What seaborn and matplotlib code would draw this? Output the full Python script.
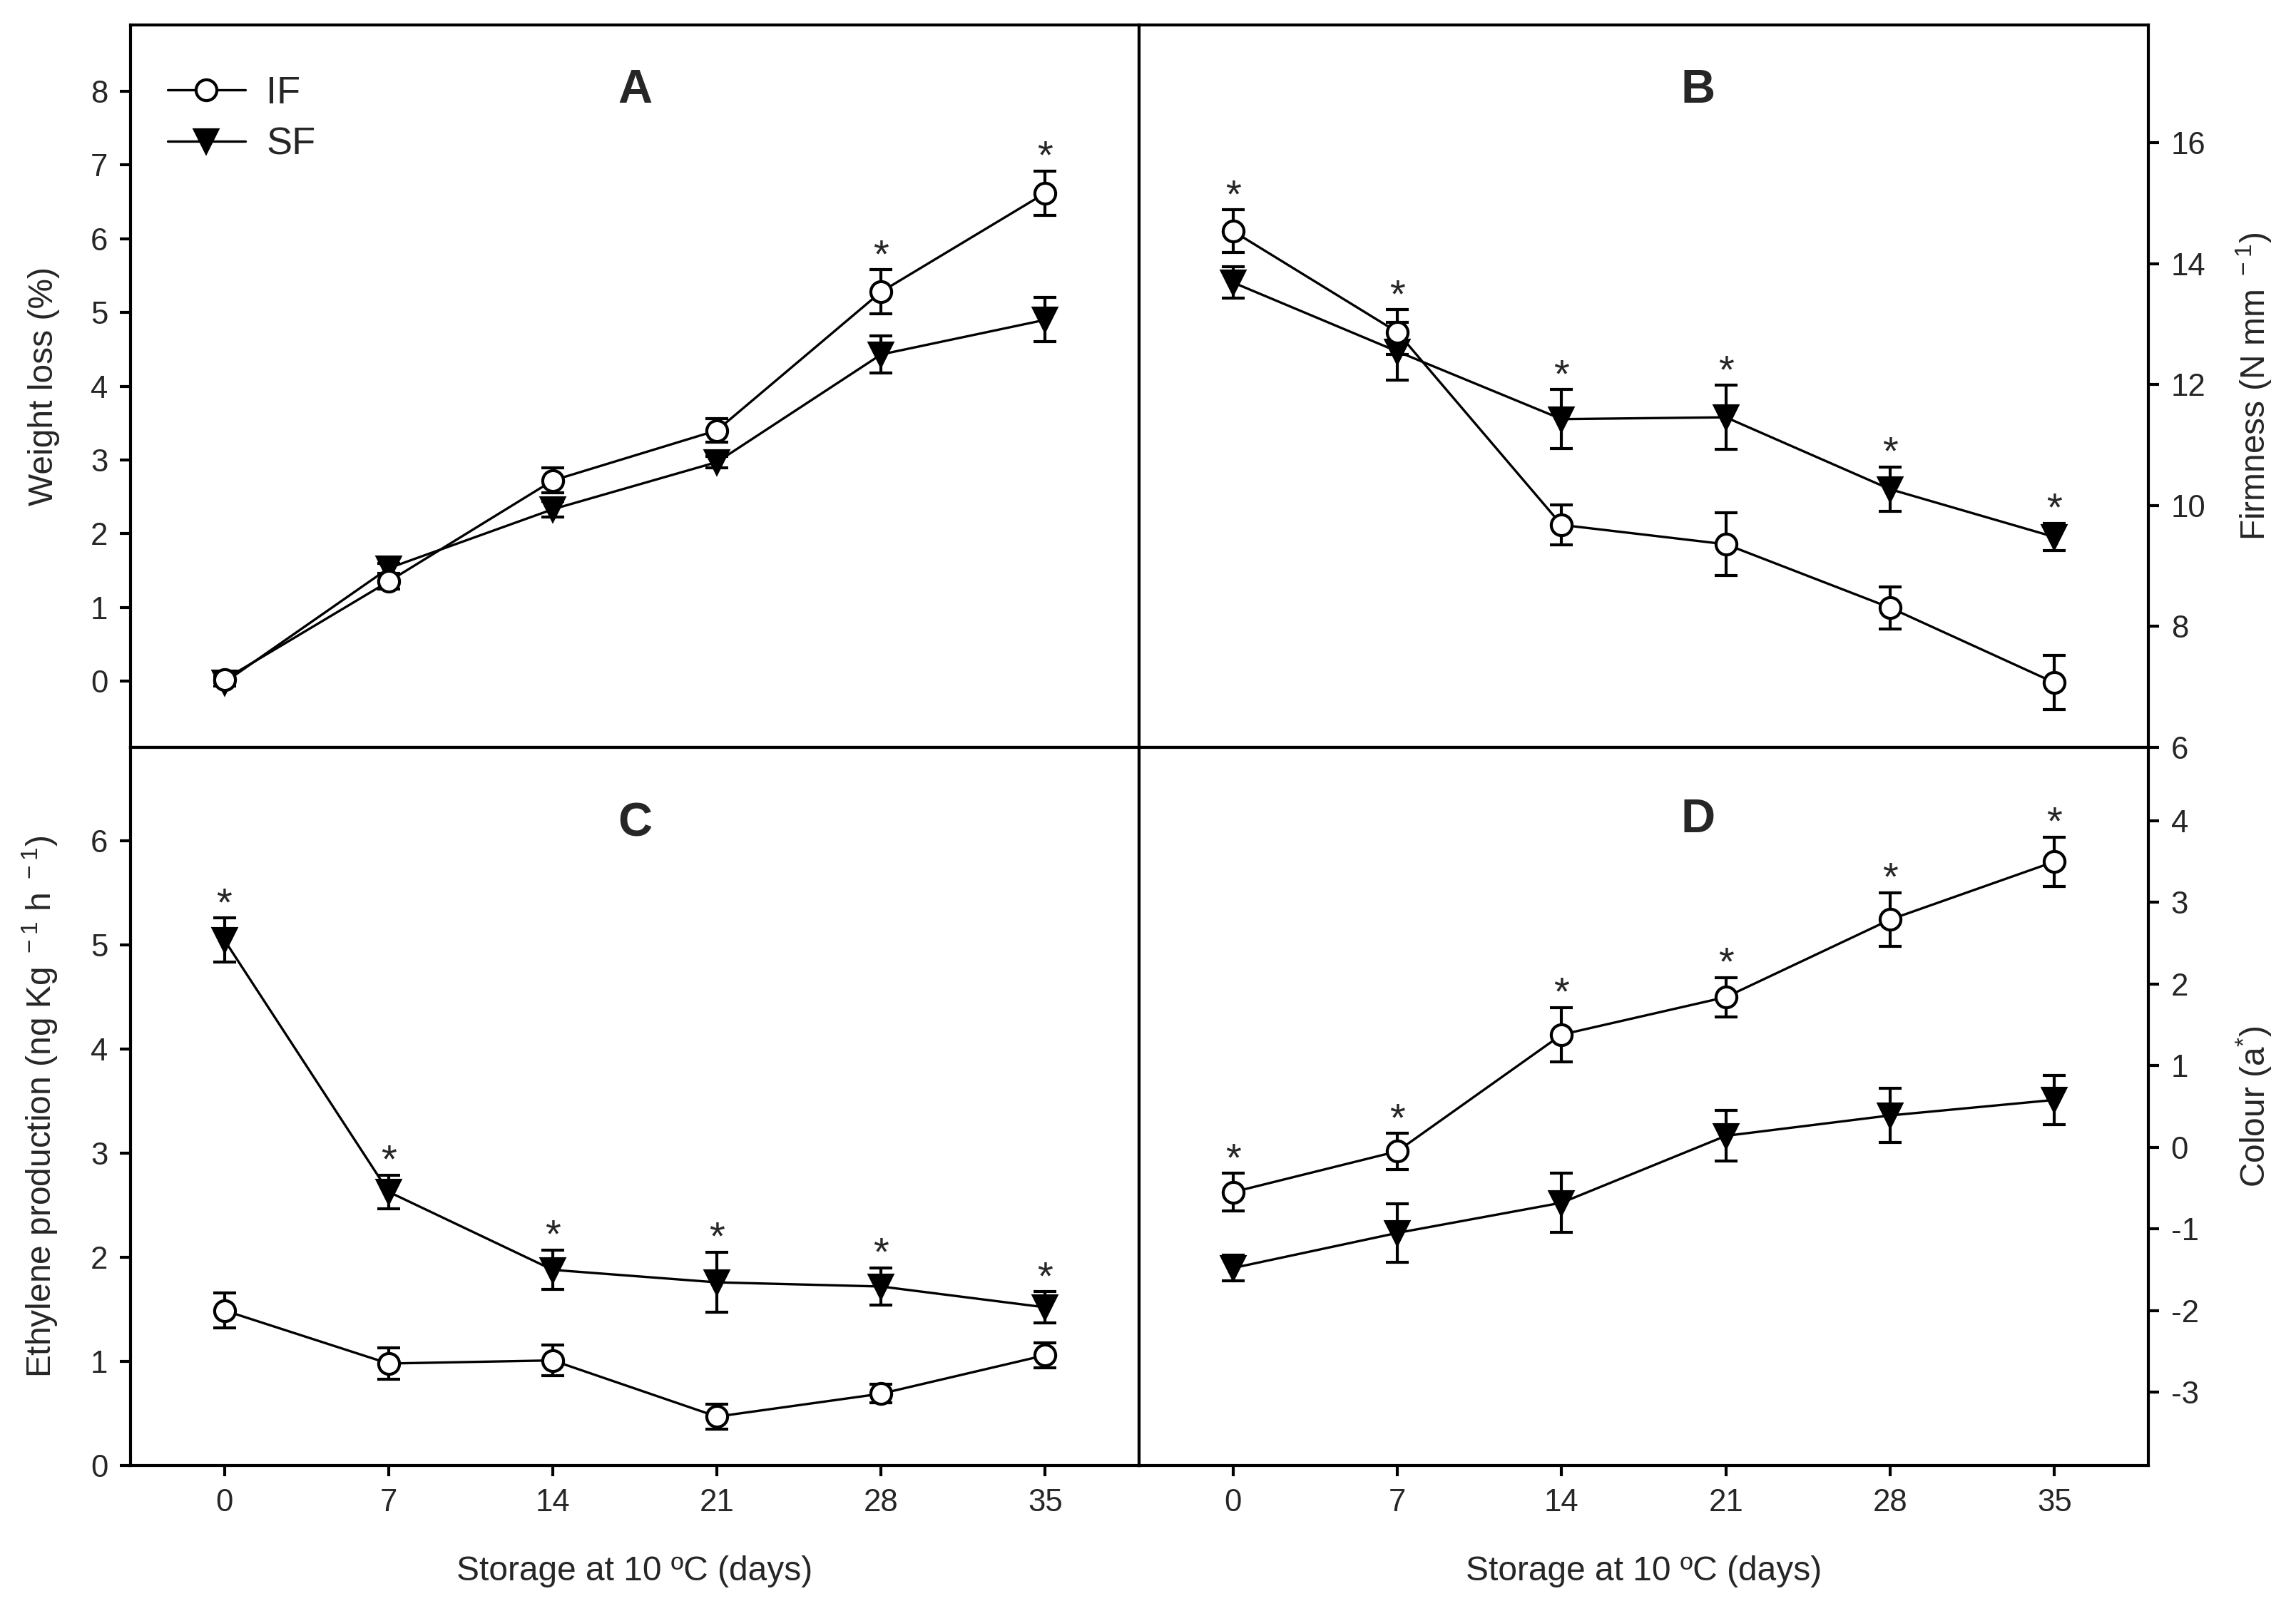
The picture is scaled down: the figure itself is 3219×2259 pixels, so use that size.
import matplotlib
matplotlib.use('Agg')
import matplotlib.pyplot as plt
import seaborn as sns

sns.set_style('ticks')
plt.rcParams['font.family'] = ['Liberation Sans', 'DejaVu Sans']
plt.rcParams['mathtext.default'] = 'regular'
plt.rcParams['axes.unicode_minus'] = False

days = [0, 7, 14, 21, 28, 35]

# A - weight loss (%)
weight_if = [0.02, 1.35, 2.72, 3.40, 5.28, 6.62]
weight_if_se = [0.04, 0.10, 0.17, 0.16, 0.30, 0.30]
weight_sf = [-0.02, 1.53, 2.33, 2.97, 4.43, 4.90]
weight_sf_se = [0.05, 0.07, 0.11, 0.08, 0.25, 0.30]
weight_stars = [0, 0, 0, 0, 1, 1]

# B - firmness (N mm-1)
firm_if = [14.54, 12.87, 9.68, 9.36, 8.31, 7.07]
firm_if_se = [0.35, 0.37, 0.33, 0.52, 0.35, 0.45]
firm_sf = [13.69, 12.55, 11.43, 11.46, 10.27, 9.48]
firm_sf_se = [0.26, 0.48, 0.49, 0.53, 0.37, 0.23]
firm_stars = [1, 1, 1, 1, 1, 1]

# C - ethylene production
eth_if = [1.49, 0.98, 1.01, 0.47, 0.69, 1.06]
eth_if_se = [0.17, 0.15, 0.15, 0.12, 0.09, 0.12]
eth_sf = [5.05, 2.63, 1.88, 1.76, 1.72, 1.52]
eth_sf_se = [0.21, 0.16, 0.19, 0.29, 0.18, 0.15]
eth_stars = [1, 1, 1, 1, 1, 1]

# D - colour a*
col_if = [-0.55, -0.05, 1.38, 1.84, 2.79, 3.50]
col_if_se = [0.23, 0.22, 0.33, 0.24, 0.33, 0.30]
col_sf = [-1.48, -1.05, -0.68, 0.14, 0.39, 0.58]
col_sf_se = [0.16, 0.36, 0.36, 0.31, 0.33, 0.30]
col_stars = [1, 1, 1, 1, 1, 1]

xticks = [0, 7, 14, 21, 28, 35]
xlabel = 'Storage at 10 ºC (days)'
narrow = ['Liberation Sans Narrow', 'Liberation Sans', 'DejaVu Sans']

fig = plt.figure(figsize=(3219 / 300, 2259 / 300), dpi=300)
L, M, R = 183 / 3219, 1597 / 3219, 3012 / 3219
T, Mid, B = 1 - 35 / 2259, 1 - 1048 / 2259, 1 - 2055 / 2259
axA = fig.add_axes([L, Mid, M - L, T - Mid])
axB = fig.add_axes([M, Mid, R - M, T - Mid])
axC = fig.add_axes([L, B, M - L, Mid - B])
axD = fig.add_axes([M, B, R - M, Mid - B])


def panel(ax, y_if, e_if, y_sf, e_sf, stars, ylim, yticks, letter, ly):
    for y, e in [(y_sf, e_sf), (y_if, e_if)]:
        ax.errorbar(days, y, yerr=e, fmt='none', ecolor='black',
                    elinewidth=1.0, capsize=3.8, capthick=1.0, zorder=2)
    sns.lineplot(x=days, y=y_sf, ax=ax, color='black', lw=0.8, marker='v',
                 markersize=7.5, markerfacecolor='black', markeredgecolor='black',
                 markeredgewidth=1.0, label='SF', zorder=3, legend=False)
    sns.lineplot(x=days, y=y_if, ax=ax, color='black', lw=0.8, marker='o',
                 markersize=7, markerfacecolor='white', markeredgecolor='black',
                 markeredgewidth=1.0, label='IF', zorder=4, legend=False)
    for d, s, a, ea, b, eb in zip(days, stars, y_if, e_if, y_sf, e_sf):
        if s:
            top = max(a + ea, b + eb)
            ax.annotate('*', xy=(d, top), xytext=(0, 1), textcoords='offset points',
                        ha='center', va='baseline', fontsize=13.5)
    ax.set_xlim(-4, 39)
    ax.set_ylim(*ylim)
    ax.set_yticks(yticks)
    ax.set_xticks(xticks)
    ax.text(0.5 if letter in 'AC' else 0.554, ly, letter, transform=ax.transAxes,
            ha='center', va='center', fontsize=16, fontweight='bold')
    for sp in ax.spines.values():
        sp.set_linewidth(1.0)
        sp.set_color('black')
    ax.tick_params(length=3.6, width=1.0, labelsize=10.5, pad=4, color='black',
                   labelfontfamily=narrow)


panel(axA, weight_if, weight_if_se, weight_sf, weight_sf_se, weight_stars,
      (-0.9, 8.9), range(0, 9), 'A', 0.909)
panel(axB, firm_if, firm_if_se, firm_sf, firm_sf_se, firm_stars,
      (6, 17.95), range(6, 17, 2), 'B', 0.909)
panel(axC, eth_if, eth_if_se, eth_sf, eth_sf_se, eth_stars,
      (0, 6.9), range(0, 7), 'C', 0.893)
panel(axD, col_if, col_if_se, col_sf, col_sf_se, col_stars,
      (-3.9, 4.9), range(-3, 5), 'D', 0.899)

for ax in (axA, axB):
    ax.tick_params(axis='x', bottom=False, labelbottom=False)
for ax in (axB, axD):
    ax.yaxis.tick_right()
    ax.yaxis.set_label_position('right')
for ax in (axC, axD):
    ax.set_xlabel(xlabel, fontsize=11.5)
    ax.xaxis.set_label_coords(0.5, -0.125)

axA.set_ylabel('Weight loss (%)', fontsize=11.5)
axC.set_ylabel('Ethylene production (ng Kg$^{\\ -1}$ h$^{\\ -1}$)', fontsize=11.5)
axB.set_ylabel('Firmness (N mm$^{\\ -1}$)', fontsize=11.5)
axD.set_ylabel('Colour (a$^{*}$)', fontsize=11.5)
for ax in (axA, axC):
    ax.yaxis.set_label_coords(-0.07, 0.5)
for ax in (axB, axD):
    ax.yaxis.set_label_coords(1.085, 0.5)

h = {ln.get_label(): ln for ln in axA.lines if ln.get_label() in ('IF', 'SF')}
axA.legend([h['IF'], h['SF']], ['IF', 'SF'], loc='upper left',
           bbox_to_anchor=(0.037, 0.93), frameon=False, fontsize=13,
           handlelength=2.0, handletextpad=0.55, labelspacing=0.4,
           borderpad=0, borderaxespad=0)

fig.savefig('out.png', dpi=300, facecolor='white')
